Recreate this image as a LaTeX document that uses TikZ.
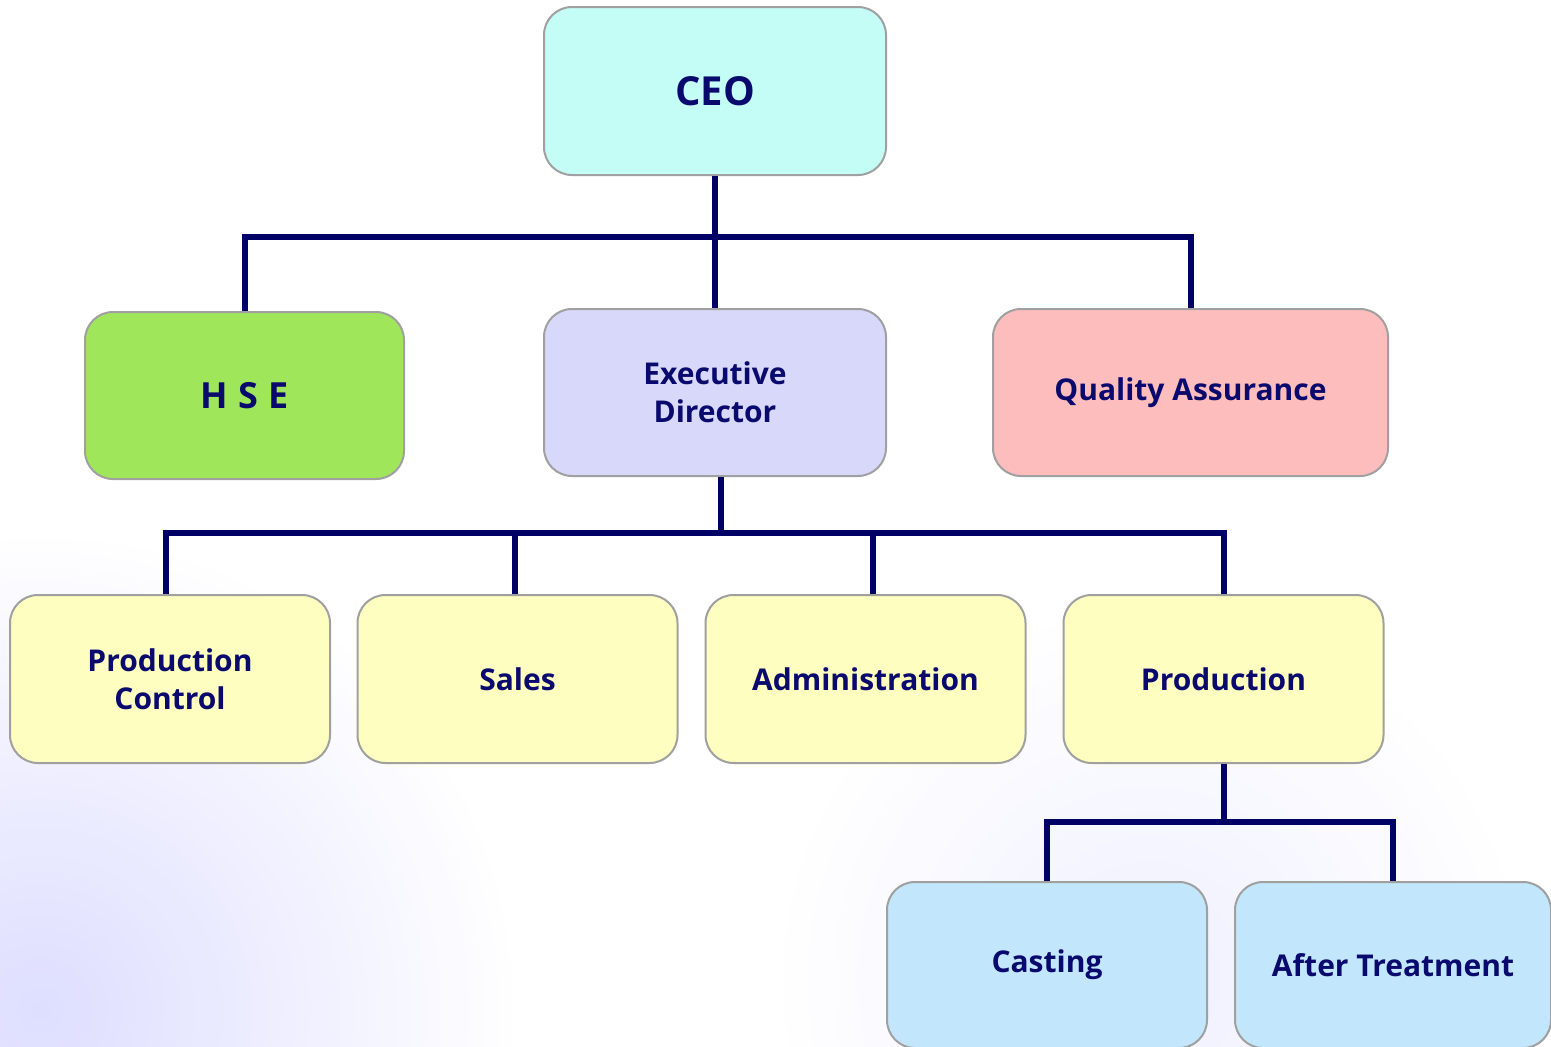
\documentclass[tikz,border=0pt]{standalone}
\usepackage{fontspec}
\setmainfont{Open Sans}
\usetikzlibrary{calc}
\definecolor{navy}{HTML}{0A0A6E}
\definecolor{lineblue}{HTML}{000066}
\definecolor{ceofill}{HTML}{C4FCF6}
\definecolor{hsefill}{HTML}{A0E65A}
\definecolor{execfill}{HTML}{D8D8FA}
\definecolor{qafill}{HTML}{FDBDBD}
\definecolor{yelfill}{HTML}{FEFEC0}
\definecolor{bluefill}{HTML}{C2E6FC}
\definecolor{boxedge}{HTML}{A0A0A0}
\tikzset{
  orgbox/.style={draw=boxedge, line width=2pt, rounded corners=28pt, inner sep=0pt,
    align=center, text=navy, font=\fontsize{30}{38}\selectfont\bfseries,
    minimum width=320pt, minimum height=168pt},
  conn/.style={draw=lineblue, line width=6pt},
}
\begin{document}
\begin{tikzpicture}[x=1pt,y=-1pt]
\useasboundingbox (0,0) rectangle (1551,1047);
\fill[white] (0,0) rectangle (1551,1047);
% faint background
\begin{scope}
\clip (0,0) rectangle (1551,1047);
\shade[inner color=blue!13, outer color=white] (40,1010) circle (480);
\shade[inner color=blue!6, outer color=white] (1150,980) circle (380);
\end{scope}

% nodes
\node[orgbox, fill=ceofill, minimum width=342pt, font=\fontsize{40}{46}\selectfont\bfseries] (ceo) at (715,91) {CEO};
\node[orgbox, fill=hsefill, minimum width=319pt, minimum height=167pt, font=\fontsize{36}{42}\selectfont\bfseries] (hse) at (244.5,395.5) {\spaceskip=10pt H S E};
\node[orgbox, fill=execfill, minimum width=342pt, minimum height=167pt] (exec) at (715,392.5) {Executive\\Director};
\node[orgbox, fill=qafill, minimum width=395pt, minimum height=167pt] (qa) at (1190.5,392.5) {Quality Assurance};
\node[orgbox, fill=yelfill] (pc) at (170,679) {Production\\Control};
\node[orgbox, fill=yelfill] (sales) at (517.5,679) {Sales};
\node[orgbox, fill=yelfill] (admin) at (865.5,679) {Administration};
\node[orgbox, fill=yelfill] (prod) at (1223.5,679) {Production};
\node[orgbox, fill=bluefill, minimum height=166pt] (cast) at (1047,965) {Casting};
\node[orgbox, fill=bluefill, minimum width=316pt, minimum height=166pt] (after) at (1393,965) {After Treatment};

% junction coordinates
\coordinate (j1) at (715,237);
\coordinate (j2) at (721,533);
\coordinate (j3) at (1223.5,822);

% level 1
\draw[conn] (ceo.south) -- (exec.north);
\draw[conn] (hse.north) -- (hse.north |- j1) -- (qa.north |- j1) -- (qa.north);
% level 2
\draw[conn] ($(exec.south)+(6,0)$) -- (j2);
\draw[conn] ($(pc.north)+(-4,0)$) -- ($(pc.north |- j2)+(-4,0)$) -- (prod.north |- j2) -- (prod.north);
\draw[conn] ($(sales.north)+(-3,0)$) -- ($(sales.north |- j2)+(-3,0)$);
\draw[conn] ($(admin.north)+(7,0)$) -- ($(admin.north |- j2)+(7,0)$);
% level 3
\draw[conn] (prod.south) -- (prod.south |- j3);
\draw[conn] (cast.north) -- (cast.north |- j3) -- (after.north |- j3) -- (after.north);
\end{tikzpicture}
\end{document}
